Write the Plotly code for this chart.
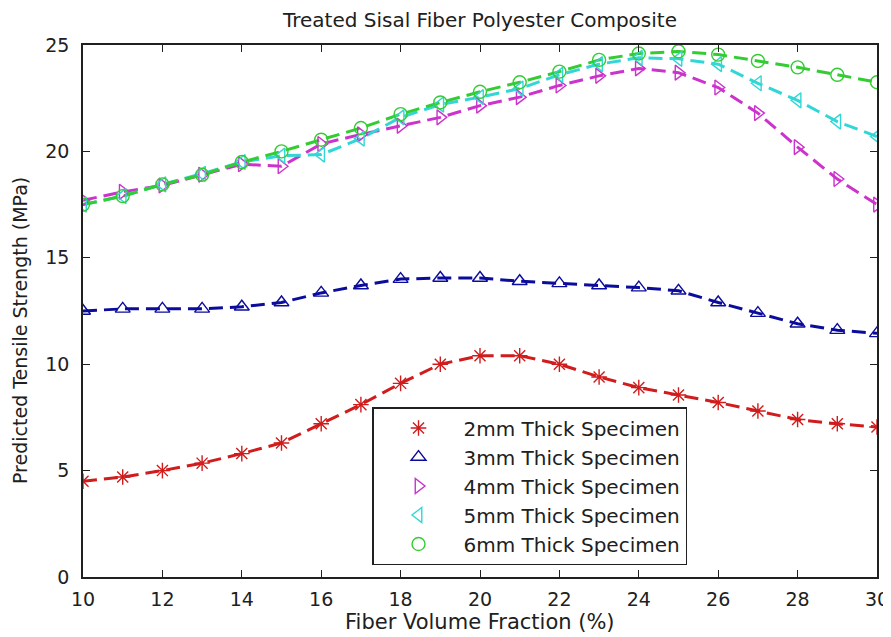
import plotly.graph_objects as go

fiber_vf = [10, 11, 12, 13, 14, 15, 16, 17, 18, 19, 20, 21, 22, 23, 24, 25, 26, 27, 28, 29, 30]

s2mm = [4.5, 4.7, 5.0, 5.35, 5.8, 6.3, 7.2, 8.1, 9.1, 10.0, 10.4, 10.4, 10.0, 9.4, 8.9, 8.55, 8.2, 7.8, 7.4, 7.2, 7.05]
s3mm = [12.5, 12.6, 12.6, 12.6, 12.7, 12.9, 13.35, 13.7, 14.0, 14.05, 14.05, 13.9, 13.8, 13.7, 13.6, 13.45, 12.9, 12.4, 11.9, 11.6, 11.45]
s4mm = [17.7, 18.1, 18.4, 18.9, 19.4, 19.3, 20.35, 20.8, 21.2, 21.6, 22.15, 22.55, 23.1, 23.55, 23.9, 23.7, 23.0, 21.8, 20.2, 18.7, 17.5]
s5mm = [17.5, 17.9, 18.45, 18.95, 19.5, 19.8, 19.85, 20.6, 21.6, 22.2, 22.55, 22.95, 23.6, 24.1, 24.4, 24.35, 24.1, 23.2, 22.4, 21.4, 20.7]
s6mm = [17.5, 17.9, 18.45, 18.9, 19.5, 20.0, 20.55, 21.1, 21.75, 22.3, 22.8, 23.25, 23.75, 24.3, 24.6, 24.7, 24.55, 24.25, 23.95, 23.6, 23.25]

series_names = ["2mm Thick Specimen", "3mm Thick Specimen", "4mm Thick Specimen",
                "5mm Thick Specimen", "6mm Thick Specimen"]
x_ticks = [10, 12, 14, 16, 18, 20, 22, 24, 26, 28, 30]
y_ticks = [0, 5, 10, 15, 20, 25]

series = [s2mm, s3mm, s4mm, s5mm, s6mm]
colors = ["#d01c1c", "#0c0c9c", "#cc33cc", "#33d6d6", "#33cc33"]
symbols = ["asterisk-open", "triangle-up-open", "triangle-right-open", "triangle-left-open", "circle-open"]

fig = go.Figure()
for ys, col in zip(series, colors):
    fig.add_trace(go.Scatter(x=fiber_vf, y=ys, mode="lines", showlegend=False,
                             line=dict(color=col, width=3, dash="14px,7px"), hoverinfo="skip"))
for name, ys, col, sym in zip(series_names, series, colors, symbols):
    fig.add_trace(go.Scatter(x=fiber_vf, y=ys, mode="markers", name=name,
                             marker=dict(symbol=sym, size=13, color=col,
                                         line=dict(color=col, width=1.4))))

fnt = "DejaVu Sans, sans-serif"
txt = "#202020"
# page body has an 8px default margin, so the figure is 8px smaller on each axis
fig.update_layout(
    width=883, height=629,
    paper_bgcolor="white", plot_bgcolor="white",
    margin=dict(l=75, r=14, t=37, b=60),
    font=dict(family=fnt, size=18, color=txt),
    title=dict(text="Treated Sisal Fiber Polyester Composite", x=0.5345, xanchor="center",
               y=0.981, yanchor="middle", font=dict(size=20, color=txt)),
    showlegend=True,
    legend=dict(x=0.364, y=0.3195, xanchor="left", yanchor="top",
                bordercolor=txt, borderwidth=1.5, bgcolor="white",
                font=dict(size=20, color=txt), itemwidth=80,
                tracegroupgap=0),
    annotations=[
        dict(text="Fiber Volume Fraction (%)", xref="paper", yref="paper", x=0.5, y=0,
             xanchor="center", yanchor="middle", yshift=-45, showarrow=False,
             font=dict(size=21, color=txt)),
        dict(text="Predicted Tensile Strength (MPa)", xref="paper", yref="paper", x=0, y=0.5,
             xanchor="center", yanchor="middle", xshift=-63, yshift=-20, textangle=-90,
             showarrow=False, font=dict(size=19, color=txt)),
    ],
)
fig.update_xaxes(range=[10, 30], tickvals=x_ticks, ticks="inside", ticklen=7,
                 showline=True, linecolor=txt, linewidth=1.5, mirror="ticks", tickcolor=txt,
                 showgrid=False, zeroline=False, automargin=False, ticklabelstandoff=4,
                 tickfont=dict(size=19, color=txt))
fig.update_yaxes(range=[0, 25], tickvals=y_ticks, ticks="inside", ticklen=7,
                 showline=True, linecolor=txt, linewidth=1.5, mirror="ticks", tickcolor=txt,
                 showgrid=False, zeroline=False, automargin=False, ticklabelstandoff=8,
                 tickfont=dict(size=19, color=txt))

fig.write_html("out.html")
